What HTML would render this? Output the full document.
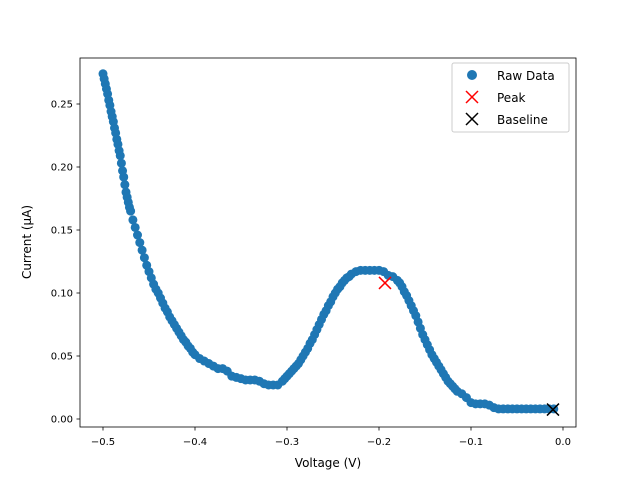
<!DOCTYPE html>
<html><head><meta charset="utf-8"><style>
body{margin:0;background:#fff}
svg text{font-family:"DejaVu Sans","Liberation Sans",sans-serif;fill:#000}
</style></head><body>
<svg id="c" width="640" height="480">
<rect x="80" y="58" width="496" height="369" fill="none" stroke="#000" stroke-width="0.8"/>
<g id="marks"></g><g id="axes"></g>
<text x="328" y="467" font-size="12" text-anchor="middle">Voltage (V)</text>
<text x="31" y="242" font-size="12" text-anchor="middle" transform="rotate(-90 31 242)">Current (µA)</text>
<g>
<rect x="452" y="63" width="117" height="69" rx="2" fill="#fff" fill-opacity="0.8" stroke="#ccc"/>
<circle cx="472" cy="75" r="5" fill="#1f77b4"/>
<text x="497" y="80" font-size="12">Raw Data</text>
<path d="M466 91l12 12M478 91l-12 12" stroke="red" stroke-width="1.5"/>
<text x="497" y="102" font-size="12">Peak</text>
<path d="M466 113l12 12M478 113l-12 12" stroke="#000" stroke-width="1.5"/>
<text x="497" y="124" font-size="12">Baseline</text>
</g>
</svg>
<script>
const volts=[-0.5,-0.495,-0.49,-0.485,-0.48,-0.475,-0.47,-0.465,-0.46,-0.455,-0.45,-0.445,-0.44,-0.435,-0.43,-0.425,-0.42,-0.415,-0.41,-0.405,-0.4,-0.395,-0.39,-0.385,-0.38,-0.375,-0.37,-0.365,-0.36,-0.355,-0.35,-0.345,-0.34,-0.335,-0.33,-0.325,-0.32,-0.315,-0.31,-0.305,-0.3,-0.295,-0.29,-0.285,-0.28,-0.275,-0.27,-0.265,-0.26,-0.255,-0.25,-0.245,-0.24,-0.235,-0.23,-0.225,-0.22,-0.215,-0.21,-0.205,-0.2,-0.195,-0.19,-0.185,-0.18,-0.175,-0.17,-0.165,-0.16,-0.155,-0.15,-0.145,-0.14,-0.135,-0.13,-0.125,-0.12,-0.115,-0.11,-0.105,-0.1,-0.095,-0.09,-0.085,-0.08,-0.075,-0.07,-0.065,-0.06,-0.055,-0.05,-0.045,-0.04,-0.035,-0.03,-0.025,-0.02,-0.015,-0.01,
-0.4975,-0.4925,-0.4875,-0.4825,-0.4775,-0.4725,-0.4675,-0.4625,-0.4575,-0.4525,-0.4475,-0.4425,-0.4375,-0.4325,-0.4275,-0.4225,-0.4175,-0.4125,-0.4075,-0.4025,
-0.49875,-0.49625,-0.49375,-0.49125,-0.48875,-0.48625,-0.48375,-0.48125,-0.47875,-0.47625,-0.47375,-0.47125,
-0.3025,-0.2975,-0.2925,-0.2875,-0.2825,-0.2775,-0.2725,-0.2675,-0.2625,-0.2575,-0.2525,-0.2475,-0.2425,-0.2375,-0.2325,
-0.1775,-0.1725,-0.1675,-0.1625,-0.1575,-0.1525,-0.1475,-0.1425,-0.1375,-0.1325,-0.1275,-0.1225,-0.1175];
const currents=[0.274,0.258,0.240,0.222,0.203,0.180,0.165,0.152,0.140,0.128,0.117,0.107,0.100,0.092,0.085,0.078,0.072,0.066,0.061,0.056,0.051,0.048,0.046,0.044,0.042,0.040,0.040,0.038,0.034,0.033,0.032,0.031,0.031,0.031,0.030,0.028,0.027,0.027,0.027,0.030,0.034,0.038,0.042,0.047,0.053,0.060,0.067,0.075,0.083,0.090,0.097,0.103,0.108,0.112,0.115,0.117,0.118,0.118,0.118,0.118,0.118,0.117,0.114,0.113,0.110,0.105,0.098,0.090,0.082,0.072,0.063,0.055,0.048,0.042,0.036,0.030,0.026,0.022,0.020,0.017,0.013,0.012,0.012,0.012,0.011,0.009,0.008,0.008,0.008,0.008,0.008,0.008,0.008,0.008,0.008,0.008,0.008,0.008,0.008,
0.266,0.249,0.231,0.213,0.192,0.172,0.158,0.146,0.134,0.122,0.112,0.103,0.096,0.088,0.081,0.075,0.069,0.063,0.058,0.053,
0.270,0.262,0.253,0.244,0.236,0.227,0.218,0.209,0.197,0.186,0.176,0.168,
0.032,0.036,0.040,0.044,0.050,0.056,0.063,0.071,0.079,0.086,0.093,0.100,0.105,0.110,0.113,
0.108,0.101,0.094,0.086,0.077,0.067,0.059,0.051,0.045,0.039,0.033,0.028,0.024];
const peak=[-0.1935,0.108];
const baseline=[-0.0109,0.0075];
const xTicks=[-0.5,-0.4,-0.3,-0.2,-0.1,0.0];
const xTickLabels=["−0.5","−0.4","−0.3","−0.2","−0.1","0.0"];
const yTicks=[0,0.05,0.10,0.15,0.20,0.25];
const yTickLabels=["0.00","0.05","0.10","0.15","0.20","0.25"];
const X=v=>563+v*920, Y=v=>419-v*1260;
const NS="http://www.w3.org/2000/svg";
const m=document.getElementById('marks'), a=document.getElementById('axes');
volts.forEach((v,i)=>{const c=document.createElementNS(NS,'circle');
c.setAttribute('cx',X(v));c.setAttribute('cy',Y(currents[i]));c.setAttribute('r',4.5);c.setAttribute('fill','#1f77b4');


m.appendChild(c);});
function cross(p,col,name){const s=document.createElementNS(NS,'path');const x=X(p[0]),y=Y(p[1]);
s.setAttribute('d',`M${x-6} ${y-6}l12 12M${x+6} ${y-6}l-12 12`);s.setAttribute('stroke',col);s.setAttribute('stroke-width',1.5);


m.appendChild(s);}
cross(peak,'red','peak-marker');cross(baseline,'#000','baseline-marker');
xTicks.forEach((t,i)=>{const x=X(t);const l=document.createElementNS(NS,'line');
l.setAttribute('x1',x);l.setAttribute('x2',x);l.setAttribute('y1',427);l.setAttribute('y2',430.5);l.setAttribute('stroke','#000');l.setAttribute('stroke-width',0.8);


a.appendChild(l);
const tx=document.createElementNS(NS,'text');tx.setAttribute('x',x);tx.setAttribute('y',445);tx.setAttribute('font-size',10);tx.setAttribute('text-anchor','middle');tx.textContent=xTickLabels[i];


a.appendChild(tx);});
yTicks.forEach((t,i)=>{const y=Y(t);const l=document.createElementNS(NS,'line');
l.setAttribute('x1',76.5);l.setAttribute('x2',80);l.setAttribute('y1',y);l.setAttribute('y2',y);l.setAttribute('stroke','#000');l.setAttribute('stroke-width',0.8);


a.appendChild(l);
const tx=document.createElementNS(NS,'text');tx.setAttribute('x',73);tx.setAttribute('y',y+3.5);tx.setAttribute('font-size',10);tx.setAttribute('text-anchor','end');tx.textContent=yTickLabels[i];


a.appendChild(tx);});
</script>
</body></html>
